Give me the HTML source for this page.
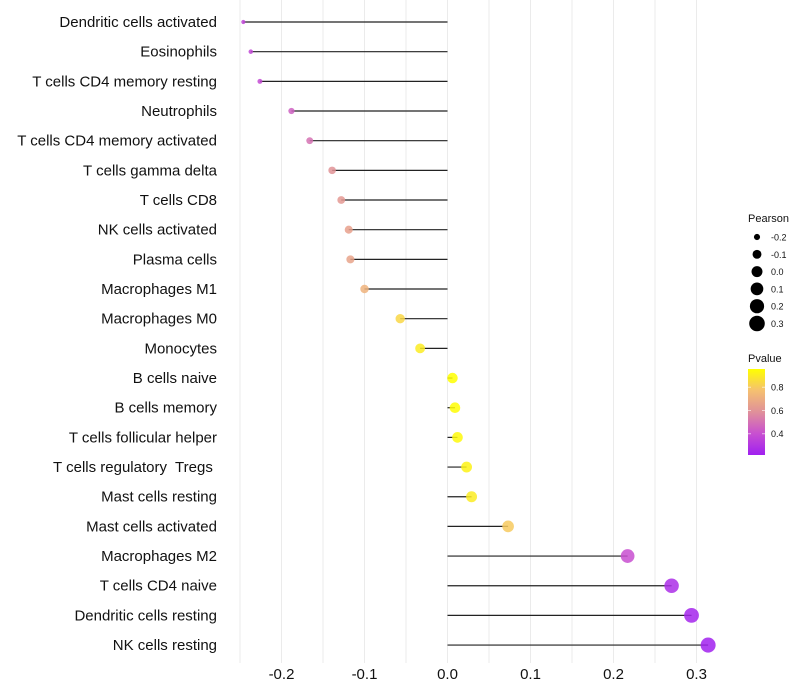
<!DOCTYPE html>
<html><head><meta charset="utf-8">
<style>
body{margin:0;background:#fff;}
svg{display:block;font-family:"Liberation Sans",sans-serif;}
text{white-space:pre;}
</style></head>
<body>
<svg id="chart" width="800" height="700" xmlns="http://www.w3.org/2000/svg">
<g id="grid"></g>
<g id="marks"></g>
<g id="ylabels"></g>
<g id="xlabels"></g>
<g id="legend"></g>
</svg>
<script>
const categories=["Dendritic cells activated","Eosinophils","T cells CD4 memory resting","Neutrophils","T cells CD4 memory activated","T cells gamma delta","T cells CD8","NK cells activated","Plasma cells","Macrophages M1","Macrophages M0","Monocytes","B cells naive","B cells memory","T cells follicular helper","T cells regulatory  Tregs ","Mast cells resting","Mast cells activated","Macrophages M2","T cells CD4 naive","Dendritic cells resting","NK cells resting"];
const pearson=[-0.246,-0.237,-0.226,-0.188,-0.166,-0.139,-0.128,-0.119,-0.117,-0.100,-0.057,-0.033,0.006,0.009,0.012,0.023,0.029,0.073,0.217,0.270,0.294,0.314];
const pvalue=[0.36,0.37,0.38,0.45,0.5,0.6,0.62,0.65,0.66,0.72,0.84,0.9,0.96,0.95,0.94,0.92,0.9,0.8,0.40,0.27,0.24,0.22];
const xTicks=[-0.2,-0.1,0.0,0.1,0.2,0.3];
const xTickLabels=["-0.2","-0.1","0.0","0.1","0.2","0.3"];
const sizeLegend=[-0.2,-0.1,0.0,0.1,0.2,0.3];
const pLegend=[0.4,0.6,0.8];

const NS="http://www.w3.org/2000/svg";
const x=v=>447.5+v*830;
const y=i=>22+i*29.67;
const r=v=>Math.sqrt(Math.max(3,27.2+93*v));
const pMin=0.217,pMax=0.957;
const stops=[[0,[160,32,240]],[0.25,[200,80,208]],[0.5,[224,144,154]],[0.75,[245,192,112]],[1,[255,255,0]]];
function col(p){
  const t=Math.max(0,Math.min(1,(p-pMin)/(pMax-pMin)));
  for(let k=0;k<stops.length-1;k++){
    const [a,ca]=stops[k],[b,cb]=stops[k+1];
    if(t<=b){const u=(t-a)/(b-a);const c=ca.map((v,j)=>Math.round(v+(cb[j]-v)*u));return `rgb(${c[0]},${c[1]},${c[2]})`;}
  }
  return 'rgb(255,255,0)';
}
function mk(tag,attrs,parent){const e=document.createElementNS(NS,tag);for(const k in attrs)e.setAttribute(k,attrs[k]);parent.appendChild(e);return e;}
const grid=document.getElementById('grid'),marks=document.getElementById('marks'),yl=document.getElementById('ylabels'),xl=document.getElementById('xlabels'),lg=document.getElementById('legend');
for(let v=-0.25;v<=0.301;v+=0.05){
  const g=mk('line',{x1:x(v),x2:x(v),y1:0,y2:663,stroke:'#ebebeb','stroke-width':1},grid);
  
  
}
categories.forEach((c,i)=>{
  const l=mk('line',{x1:x(0),x2:x(pearson[i]),y1:y(i),y2:y(i),stroke:'#222','stroke-width':1.2},marks);
  
  
  const p=mk('circle',{cx:x(pearson[i]),cy:y(i),r:r(pearson[i]),fill:col(pvalue[i]),'fill-opacity':0.85},marks);
  
  
  const t=mk('text',{x:217,y:y(i)+5,'text-anchor':'end','font-size':15,fill:'#111'},yl);
  t.textContent=c;
  
  
});
xTicks.forEach((v,i)=>{
  const t=mk('text',{x:x(v),y:679,'text-anchor':'middle','font-size':15,fill:'#111'},xl);
  t.textContent=xTickLabels[i];
  
  
});
let tt=mk('text',{x:748,y:222,'font-size':11,fill:'#111'},lg);tt.textContent='Pearson';


sizeLegend.forEach((v,i)=>{
  const cy=237+i*17.3;
  const c=mk('circle',{cx:757,cy:cy,r:r(v)*1.05,fill:'#000'},lg);
  
  
  const t=mk('text',{x:771,y:cy+3.5,'font-size':9,fill:'#111'},lg);t.textContent=v.toFixed(1);
  
  
});
tt=mk('text',{x:748,y:362,'font-size':11,fill:'#111'},lg);tt.textContent='Pvalue';


const defs=mk('defs',{},lg);
const gr=mk('linearGradient',{id:'pg',x1:0,y1:1,x2:0,y2:0},defs);
stops.forEach(s=>mk('stop',{offset:s[0],'stop-color':`rgb(${s[1].join(',')})`},gr));
const bar=mk('rect',{x:748,y:369,width:17,height:86,fill:'url(#pg)'},lg);


const py=p=>455-(p-pMin)/(pMax-pMin)*86;
pLegend.forEach(p=>{
  mk('line',{x1:748,x2:751,y1:py(p),y2:py(p),stroke:'#fff','stroke-opacity':0.6},lg);
  mk('line',{x1:762,x2:765,y1:py(p),y2:py(p),stroke:'#fff','stroke-opacity':0.6},lg);
  const t=mk('text',{x:771,y:py(p)+3.5,'font-size':9,fill:'#111'},lg);t.textContent=p.toFixed(1);
  
  
});
</script>
</body></html>
